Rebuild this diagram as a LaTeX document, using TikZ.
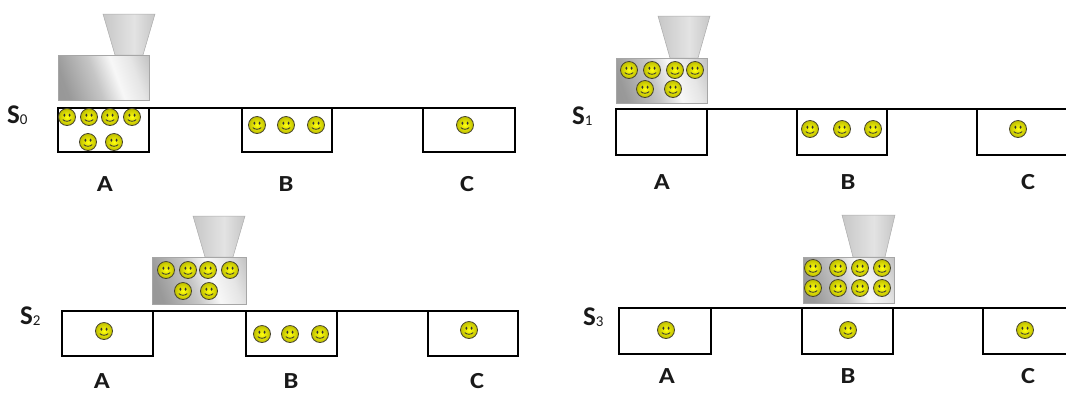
\documentclass[tikz,border=0pt]{standalone}
\usepackage{fontspec}
\setmainfont{Carlito}
\newcommand\stsub[1]{\raisebox{-1pt}{\fontsize{15}{15}\selectfont\mdseries #1}}
% light streak across the machine body
\pgfdeclarehorizontalshading{machinebody}{100bp}{color(0bp)=(gray!85); color(25bp)=(gray!80);
  color(45bp)=(gray!45); color(58bp)=(gray!6); color(70bp)=(gray!20); color(85bp)=(gray!55); color(100bp)=(gray!60)}
\pgfdeclarehorizontalshading{machinehopper}{100bp}{color(0bp)=(gray!60); color(30bp)=(gray!40);
  color(55bp)=(gray!22); color(80bp)=(gray!50); color(100bp)=(gray!80)}
\begin{document}
\begin{tikzpicture}[x=1pt,y=-1pt,
  bin/.style={rectangle, draw=black, line width=2.3pt, inner sep=0pt, outer sep=0pt, minimum height=45pt},
  belt/.style={line width=2pt, draw=black},
  body/.style={rectangle, draw=gray!70, line width=0.6pt, inner sep=0pt, outer sep=0pt,
    shading=machinebody, shading angle=20},
  hopper/.style={draw=gray!65, line width=0.5pt, shading=machinehopper},
  lbl/.style={inner sep=0pt, anchor=base, font=\fontsize{23}{23}\selectfont\bfseries, text=black!90},
  slbl/.style={inner sep=0pt, anchor=base west, font=\fontsize{27}{27}\selectfont\bfseries, text=black!90},
  smiley/.pic={
    \shade[inner color=yellow!95!white, outer color=yellow!75!black] (0,0) circle (8.5);
    \draw[black!65!olive, line width=0.8pt] (0,0) circle (8.5);
    \fill[black!80] (-2.6,-1.8) ellipse [x radius=1.05, y radius=1.7];
    \fill[black!80] (2.6,-1.8) ellipse [x radius=1.05, y radius=1.7];
    \draw[black!80, line width=0.8pt] (-4.2,2.6) .. controls (-2,4.8) and (2,4.8) .. (4.2,2.6);
  }]
\useasboundingbox (0,0) rectangle (1066,392);
\begin{scope}
\clip (0,0) rectangle (1066,392);

% ---------- state S0 ----------
\shade[hopper] (103,14) -- (155,14) -- (143,55) -- (115,55) -- cycle;
\node[body, minimum width=91pt, minimum height=45pt] (m0) at (103.5,77.5) {};
\node[bin, minimum width=91pt, minimum height=44pt] (s0a) at (103.5,130) {};
\node[bin, minimum width=90pt, minimum height=44pt] (s0b) at (287,130) {};
\node[bin, minimum width=92pt, minimum height=44pt] (s0c) at (469,130) {};
\draw[belt] (s0a.north west) -- (s0c.north east);
\foreach \x in {67,89,110,132} \pic at (\x,117) {smiley};
\foreach \x in {88,114} \pic at (\x,142) {smiley};
\foreach \x in {257,286,316} \pic at (\x,125) {smiley};
\pic at (465,125) {smiley};
\node[slbl] (st0) at (7,123) {S\stsub{0}};
\node[lbl] (l0a) at (105,191) {\scalebox{1.15}[1]{A}};
\node[lbl] (l0b) at (286,191) {\scalebox{1.15}[1]{B}};
\node[lbl] (l0c) at (467,191) {\scalebox{1.15}[1]{C}};

% ---------- state S1 ----------
\shade[hopper] (658,16) -- (710,16) -- (698,58) -- (670,58) -- cycle;
\node[body, minimum width=91pt, minimum height=45pt] (m1) at (661.5,80.5) {};
\node[bin, minimum width=91pt, minimum height=46pt] (s1a) at (661.5,132) {};
\node[bin, minimum width=90pt, minimum height=46pt] (s1b) at (842,132) {};
\node[bin, minimum width=91pt, minimum height=46pt] (s1c) at (1022.5,132) {};
\draw[belt] (s1a.north west) -- (s1c.north east);
\foreach \x in {629,652,675,695} \pic at (\x,70) {smiley};
\foreach \x in {645,673} \pic at (\x,89) {smiley};
\foreach \x in {810,842,873} \pic at (\x,129) {smiley};
\pic at (1018,129) {smiley};
\node[slbl] (st1) at (572,124) {S\stsub{1}};
\node[lbl] (l1a) at (662,189) {\scalebox{1.15}[1]{A}};
\node[lbl] (l1b) at (848,189) {\scalebox{1.15}[1]{B}};
\node[lbl] (l1c) at (1028,189) {\scalebox{1.15}[1]{C}};

% ---------- state S2 ----------
\shade[hopper] (193,216) -- (245,216) -- (233,257) -- (205,257) -- cycle;
\node[body, minimum width=94pt, minimum height=47pt] (m2) at (199,280.5) {};
\node[bin, minimum width=91pt, minimum height=45pt] (s2a) at (107.5,333.5) {};
\node[bin, minimum width=91pt, minimum height=45pt] (s2b) at (291.5,333.5) {};
\node[bin, minimum width=90pt, minimum height=45pt] (s2c) at (473,333.5) {};
\draw[belt] (s2a.north west) -- (s2c.north east);
\foreach \x in {166,188,208,230} \pic at (\x,270) {smiley};
\foreach \x in {183,209} \pic at (\x,291) {smiley};
\pic at (104,331) {smiley};
\foreach \x in {262,290,320} \pic at (\x,334) {smiley};
\pic at (469,330) {smiley};
\node[slbl] (st2) at (20,324) {S\stsub{2}};
\node[lbl] (l2a) at (102,388) {\scalebox{1.15}[1]{A}};
\node[lbl] (l2b) at (291,388) {\scalebox{1.15}[1]{B}};
\node[lbl] (l2c) at (477,388) {\scalebox{1.15}[1]{C}};

% ---------- state S3 ----------
\shade[hopper] (842,215) -- (895,215) -- (885,257) -- (853,257) -- cycle;
\node[body, minimum width=91pt, minimum height=46pt] (m3) at (848.5,280) {};
\node[bin, minimum width=92pt, minimum height=46pt] (s3a) at (665,331) {};
\node[bin, minimum width=91pt, minimum height=46pt] (s3b) at (847.5,331) {};
\node[bin, minimum width=92pt, minimum height=46pt] (s3c) at (1029,331) {};
\draw[belt] (s3a.north west) -- (s3c.north east);
\foreach \x in {813,838,860,882} {
  \pic at (\x,268) {smiley};
  \pic at (\x,288) {smiley};
}
\pic at (666,330) {smiley};
\pic at (848,330) {smiley};
\pic at (1025,330) {smiley};
\node[slbl] (st3) at (583,325) {S\stsub{3}};
\node[lbl] (l3a) at (667,383) {\scalebox{1.15}[1]{A}};
\node[lbl] (l3b) at (848,383) {\scalebox{1.15}[1]{B}};
\node[lbl] (l3c) at (1028,383) {\scalebox{1.15}[1]{C}};
\end{scope}
\end{tikzpicture}
\end{document}
